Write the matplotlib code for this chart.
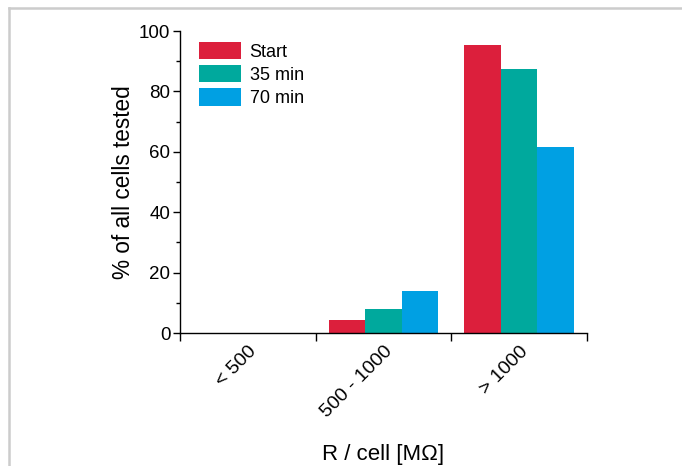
import matplotlib
matplotlib.use('Agg')
import matplotlib.pyplot as plt
import numpy as np
from matplotlib.lines import Line2D
from matplotlib.ticker import MultipleLocator

categories = ['< 500', '500 - 1000', '> 1000']
series = ['Start', '35 min', '70 min']
start = [0, 4.3, 95.4]
min35 = [0, 7.9, 87.4]
min70 = [0, 13.9, 61.6]
colors = ['#dc1f3c', '#00a99d', '#00a0e3']

plt.rcParams['font.family'] = ['Liberation Sans', 'DejaVu Sans']

fig = plt.figure(figsize=(6.82, 4.66), dpi=100)
ax = fig.add_axes([180 / 682, 1 - 333 / 466, 407 / 682, 302 / 466])

# light frame around the picture
fig.add_artist(Line2D([9 / 682, 1], [1 - 8 / 466, 1 - 8 / 466], color='#cccccc', lw=1.8))
fig.add_artist(Line2D([9 / 682, 9 / 682], [0, 1 - 8 / 466], color='#cccccc', lw=1.8))

x = np.arange(len(categories))
w = 0.27
for i, (vals, name) in enumerate(zip([start, min35, min70], series)):
    ax.bar(x + (i - 1) * w, vals, width=w, color=colors[i], label=name)

ax.set_xlim(-0.5, 2.5)
ax.set_ylim(0, 100)
ax.set_xticks([-0.5, 0.5, 1.5, 2.5])
ax.set_xticklabels([])
ax.set_xticks(x, minor=True)
ax.set_xticklabels(categories, minor=True, rotation=45, ha='right', va='top',
                   rotation_mode='anchor', fontsize=14)
ax.tick_params(axis='x', which='minor', length=0, pad=7)
ax.tick_params(axis='x', which='major', length=6, direction='out', width=1)
ax.yaxis.set_major_locator(MultipleLocator(20))
ax.yaxis.set_minor_locator(MultipleLocator(10))
ax.tick_params(axis='y', which='major', length=5, labelsize=13.5, width=1, pad=2)
ax.tick_params(axis='y', which='minor', length=3, width=1)

for s in ['top', 'right']:
    ax.spines[s].set_visible(False)
for s in ['left', 'bottom']:
    ax.spines[s].set_linewidth(1)

ax.set_ylabel('% of all cells tested', fontsize=16.3, labelpad=3)
ax.set_xlabel('R / cell [M\u03a9]', fontsize=16, labelpad=17)

ax.legend(loc='upper left', bbox_to_anchor=(0.02, 1.0), frameon=False, fontsize=13,
          handlelength=2.3, handleheight=1.1, handletextpad=0.5, labelspacing=0.25,
          borderaxespad=0.2)

fig.savefig('out.png', dpi=100)
